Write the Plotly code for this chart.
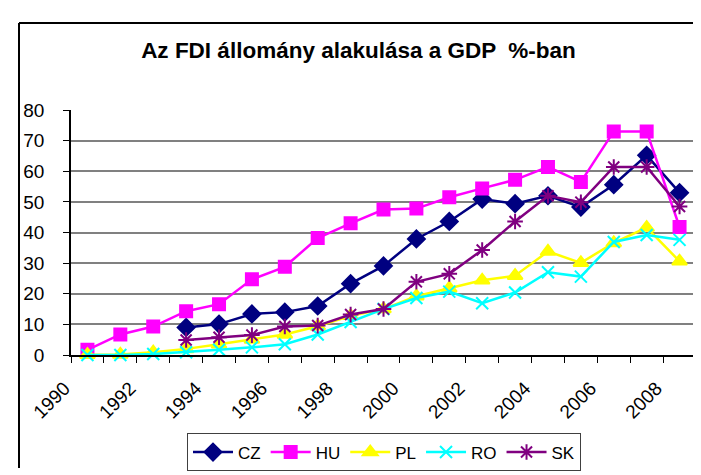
import plotly.graph_objects as go

years = list(range(1990, 2009))
cz = [None, None, None, 9.0, 10.1, 13.4, 14.0, 16.0, 23.3, 29.1, 37.9, 43.6, 50.9, 49.4, 52.0, 48.3, 55.6, 65.2, 53.0]
hu = [1.7, 6.7, 9.3, 14.3, 16.6, 24.7, 28.8, 38.2, 43.0, 47.5, 47.8, 51.5, 54.4, 57.2, 61.4, 56.5, 73.0, 73.0, 41.8]
pl = [0.1, 0.2, 0.9, 2.0, 3.5, 5.1, 6.7, 9.4, 12.8, 15.0, 19.2, 21.8, 24.4, 25.9, 33.8, 30.1, 36.6, 41.6, 30.6]
ro = [0.0, 0.0, 0.3, 0.9, 1.7, 2.5, 3.5, 6.7, 10.8, 15.0, 18.6, 20.7, 16.9, 20.4, 27.0, 25.6, 36.9, 39.2, 37.6]
sk = [None, None, None, 4.9, 5.8, 6.5, 9.3, 9.6, 13.2, 15.0, 23.9, 26.5, 34.3, 43.6, 52.0, 49.9, 61.4, 61.4, 48.5]

tick_years = list(range(1990, 2009, 2))

series = [
    ("CZ", cz, "#000080", "diamond", 13),
    ("HU", hu, "#FF00FF", "square", 12),
    ("PL", pl, "#FFFF00", "triangle-up", 13),
    ("RO", ro, "#00FFFF", "x-thin-open", 12),
    ("SK", sk, "#800080", "asterisk-open", 13),
]

FONT = "Arial, Liberation Sans, sans-serif"

fig = go.Figure()
for name, vals, color, sym, size in series:
    fig.add_trace(go.Scatter(
        x=years, y=vals, name=name, mode="lines+markers",
        line=dict(color=color, width=2.5),
        marker=dict(symbol=sym, size=size, color=color,
                    line=dict(color=color, width=2)),
        cliponaxis=False,
    ))

# plot area: x 63..688, y 102..358
L, R, T, B = 63, 688, 102, 358
W, H = 701, 475
pw, ph = R - L, B - T

def px2x(px):
    return (px - L) / pw

def py2y(py):
    return (B - py) / ph

fig.update_layout(
    width=W, height=H,
    margin=dict(l=L, r=W - R, t=T, b=H - B, pad=0),
    paper_bgcolor="white", plot_bgcolor="white",
    font=dict(family=FONT, size=17, color="black"),
    title=dict(text="<b>Az FDI állomány alakulása a GDP  %-ban</b>",
               x=0.5, xanchor="center", y=1 - 42 / H, yanchor="middle",
               font=dict(family=FONT, size=22.5, color="black")),
    showlegend=True,
    legend=dict(orientation="h", x=px2x(376), xanchor="center",
                y=py2y(440), yanchor="top",
                bordercolor="#404040", borderwidth=1,
                font=dict(family=FONT, size=17, color="black"),
                itemwidth=40, tracegroupgap=0),
    xaxis=dict(range=[1989.5, 2008.5], tickvals=tick_years,
               ticktext=[str(y) for y in tick_years],
               tickangle=-45, ticks="", showgrid=False, zeroline=False,
               showline=True, linecolor="black", linewidth=1.5,
               ticklabelstandoff=13, ticklabelshift=-23,
               tickfont=dict(family=FONT, size=19, color="black"),
               minor=dict(ticks="outside", tick0=1989.5, dtick=1, ticklen=6,
                          tickcolor="black", tickwidth=1, showgrid=False)),
    yaxis=dict(range=[0, 80], dtick=10, ticks="outside", ticklen=6,
               tickcolor="black", showgrid=True, gridcolor="#808080",
               gridwidth=1.5, zeroline=False, showline=True,
               linecolor="black", linewidth=1.5, ticklabelstandoff=15,
               tickfont=dict(family=FONT, size=19, color="black")),
    shapes=[
        dict(type="line", xref="paper", yref="paper",
             x0=px2x(11), x1=px2x(701), y0=py2y(11), y1=py2y(11),
             line=dict(color="black", width=2)),
        dict(type="line", xref="paper", yref="paper",
             x0=px2x(11), x1=px2x(11), y0=py2y(11), y1=py2y(476),
             line=dict(color="black", width=2)),
        dict(type="line", xref="paper", yref="paper",
             x0=px2x(700), x1=px2x(700), y0=py2y(11), y1=py2y(476),
             line=dict(color="#d0d0d0", width=1)),
    ],
)

fig.write_html("out.html")
